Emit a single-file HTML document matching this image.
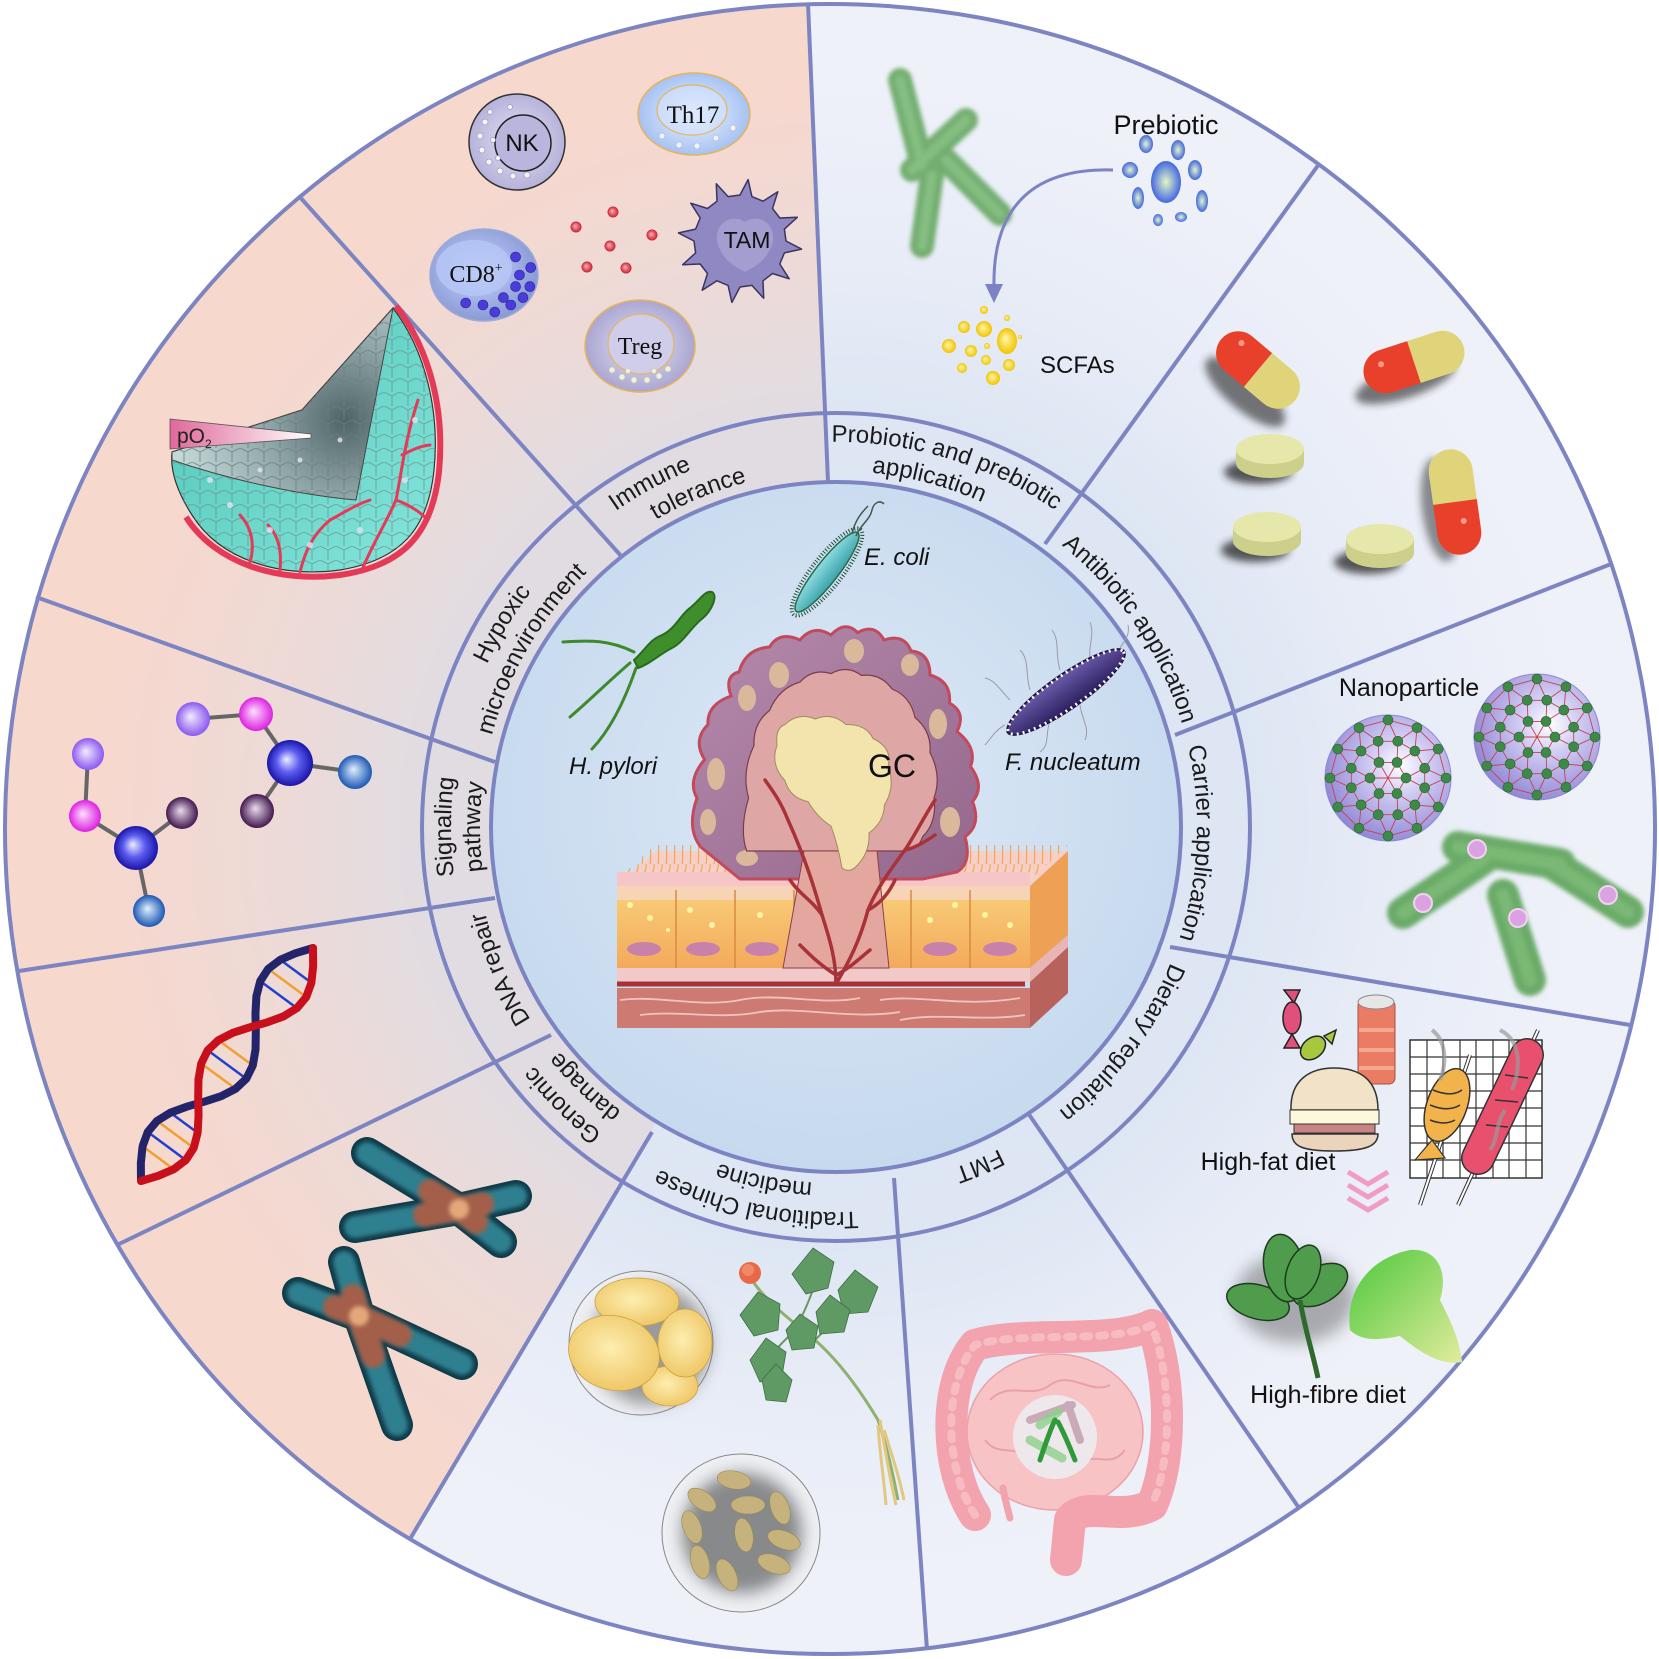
<!DOCTYPE html>
<html><head><meta charset="utf-8"><style>
html,body{margin:0;padding:0;background:#fff;}
svg{display:block;}
</style></head><body>
<svg width="1659" height="1659" viewBox="0 0 1659 1659" xmlns="http://www.w3.org/2000/svg" font-family="'Liberation Sans', Arial, sans-serif">
<defs>
<clipPath id="outerClip"><circle cx="830" cy="829" r="825"/></clipPath>
<radialGradient id="ov" gradientUnits="userSpaceOnUse" cx="836" cy="827" r="830">
<stop offset="0" stop-color="#d2dff0" stop-opacity="0.65"/>
<stop offset="0.5" stop-color="#d2dff0" stop-opacity="0.6"/>
<stop offset="0.66" stop-color="#d2dff0" stop-opacity="0.3"/>
<stop offset="0.9" stop-color="#d2dff0" stop-opacity="0"/>
</radialGradient>
<radialGradient id="discG" cx="0.5" cy="0.45" r="0.55">
<stop offset="0" stop-color="#dde9f6"/><stop offset="1" stop-color="#c6d9ee"/>
</radialGradient>
<radialGradient id="gPur" cx="0.5" cy="0.5" r="0.5" fx="0.42" fy="0.42"><stop offset="0" stop-color="#f4ecff"/><stop offset="1" stop-color="#8b58f0"/></radialGradient>
<radialGradient id="gMag" cx="0.5" cy="0.5" r="0.5" fx="0.42" fy="0.42"><stop offset="0" stop-color="#ffe0ff"/><stop offset="1" stop-color="#dc22e0"/></radialGradient>
<radialGradient id="gBB" cx="0.5" cy="0.5" r="0.5" fx="0.42" fy="0.42"><stop offset="0" stop-color="#eceeff"/><stop offset="0.5" stop-color="#5c5cf0"/><stop offset="1" stop-color="#1a14a8"/></radialGradient>
<radialGradient id="gDk" cx="0.5" cy="0.5" r="0.5" fx="0.45" fy="0.42"><stop offset="0" stop-color="#eadcee"/><stop offset="1" stop-color="#43184f"/></radialGradient>
<radialGradient id="gBl" cx="0.5" cy="0.5" r="0.5" fx="0.45" fy="0.42"><stop offset="0" stop-color="#e0f0ff"/><stop offset="1" stop-color="#1c58b4"/></radialGradient>
<radialGradient id="nanoG" cx="0.6" cy="0.4" r="0.65"><stop offset="0" stop-color="#ffffff"/><stop offset="0.35" stop-color="#d2cdf4"/><stop offset="1" stop-color="#8d84d4"/></radialGradient>
<radialGradient id="cellNK" cx="0.5" cy="0.5" r="0.5"><stop offset="0" stop-color="#e4e2f4"/><stop offset="1" stop-color="#b6b2da"/></radialGradient>
<radialGradient id="cellTh" cx="0.5" cy="0.5" r="0.5"><stop offset="0" stop-color="#eef4ff"/><stop offset="1" stop-color="#a6c2f2"/></radialGradient>
<radialGradient id="cellCD" cx="0.45" cy="0.45" r="0.55"><stop offset="0" stop-color="#c8d4fa"/><stop offset="1" stop-color="#8a9ad6"/></radialGradient>
<radialGradient id="cellTr" cx="0.5" cy="0.5" r="0.5"><stop offset="0" stop-color="#e6e4f4"/><stop offset="1" stop-color="#aaa6d2"/></radialGradient>
<radialGradient id="redDot" cx="0.5" cy="0.5" r="0.5" fx="0.4" fy="0.4"><stop offset="0" stop-color="#ffb0b8"/><stop offset="1" stop-color="#c8202e"/></radialGradient>
<radialGradient id="blueDot" cx="0.5" cy="0.5" r="0.5"><stop offset="0" stop-color="#e2f6c8"/><stop offset="1" stop-color="#4468e0"/></radialGradient>
<radialGradient id="yelDot" cx="0.5" cy="0.5" r="0.5" fx="0.4" fy="0.4"><stop offset="0" stop-color="#fff7b0"/><stop offset="1" stop-color="#f2c400"/></radialGradient>
<linearGradient id="tealG" x1="0" y1="0" x2="1" y2="1"><stop offset="0" stop-color="#4cc4b6"/><stop offset="1" stop-color="#86e6dc"/></linearGradient>
<radialGradient id="cutG" gradientUnits="userSpaceOnUse" cx="345" cy="420" r="170"><stop offset="0" stop-color="#4f6466"/><stop offset="0.45" stop-color="#8fa6a8"/><stop offset="1" stop-color="#c4d8d8"/></radialGradient>
<linearGradient id="po2G" x1="0" y1="0" x2="1" y2="0"><stop offset="0" stop-color="#e0689a"/><stop offset="1" stop-color="#ffffff"/></linearGradient>
<radialGradient id="potG" cx="0.45" cy="0.45" r="0.6"><stop offset="0" stop-color="#fdeeb0"/><stop offset="1" stop-color="#eec563"/></radialGradient>
<linearGradient id="cellsG" x1="0" y1="0" x2="0" y2="1"><stop offset="0" stop-color="#f9d07c"/><stop offset="1" stop-color="#f3aa5a"/></linearGradient>
<linearGradient id="tumG" x1="0" y1="0" x2="1" y2="1"><stop offset="0" stop-color="#b58aab"/><stop offset="1" stop-color="#94678c"/></linearGradient>
<linearGradient id="lettG" x1="0" y1="0" x2="1" y2="1"><stop offset="0" stop-color="#4cc83c"/><stop offset="1" stop-color="#e2ec9c"/></linearGradient>
<linearGradient id="fnG" x1="0" y1="0" x2="0" y2="1"><stop offset="0" stop-color="#6a5aa8"/><stop offset="1" stop-color="#2c2060"/></linearGradient>
<linearGradient id="ecG" x1="0" y1="0" x2="0" y2="1"><stop offset="0" stop-color="#8edde0"/><stop offset="1" stop-color="#3aa2aa"/></linearGradient>
<filter id="blur2" x="-30%" y="-30%" width="160%" height="160%"><feGaussianBlur stdDeviation="2"/></filter>
<filter id="blur4" x="-50%" y="-50%" width="200%" height="200%"><feGaussianBlur stdDeviation="4"/></filter>
<filter id="blur8" x="-50%" y="-50%" width="200%" height="200%"><feGaussianBlur stdDeviation="8"/></filter>
<pattern id="hair" width="8" height="36" patternUnits="userSpaceOnUse"><path d="M2,36 C4,26 1,18 4,10 C5,6 7,4 6,0" stroke="#eea23c" stroke-width="1" fill="none"/></pattern>
<pattern id="mesh" width="16" height="14" patternUnits="userSpaceOnUse"><path d="M0,0 L8,4 L16,0 M8,4 L8,14" stroke="#6d7f80" stroke-width="1" fill="none"/></pattern>
<path id="p1a" d="M1221,827 A385,385 0 1 1 451,827 A385,385 0 1 1 1221,827"/>
<path id="p1b" d="M451,827 A385,385 0 1 1 1221,827 A385,385 0 1 1 451,827"/>
<path id="p2a" d="M1192,827 A356,356 0 1 1 480,827 A356,356 0 1 1 1192,827"/>
<path id="p2b" d="M480,827 A356,356 0 1 1 1192,827 A356,356 0 1 1 480,827"/>
<path id="p3a" d="M1197,827 A361,361 0 1 1 475,827 A361,361 0 1 1 1197,827"/>
<path id="p3b" d="M475,827 A361,361 0 1 1 1197,827 A361,361 0 1 1 475,827"/>
<g id="nano">
<circle r="63" fill="url(#nanoG)" stroke="#8e86cf" stroke-width="1"/>
<g stroke="#c8404c" stroke-width="0.9" fill="none">
<polygon points="58,0 50.2,29 29,50.2 0,58 -29,50.2 -50.2,29 -58,0 -50.2,-29 -29,-50.2 0,-58 29,-50.2 50.2,-29"/>
<polygon points="36.7,9.8 26.9,26.9 9.8,36.7 -9.8,36.7 -26.9,26.9 -36.7,9.8 -36.7,-9.8 -26.9,-26.9 -9.8,-36.7 9.8,-36.7 26.9,-26.9 36.7,-9.8"/>
<polygon points="18,0 9,15.6 -9,15.6 -18,0 -9,-15.6 9,-15.6"/>
<path d="M58,0L36.7,9.8M58,0L36.7,-9.8M50.2,29L36.7,9.8M50.2,29L26.9,26.9M29,50.2L26.9,26.9M29,50.2L9.8,36.7M0,58L9.8,36.7M0,58L-9.8,36.7M-29,50.2L-9.8,36.7M-29,50.2L-26.9,26.9M-50.2,29L-26.9,26.9M-50.2,29L-36.7,9.8M-58,0L-36.7,9.8M-58,0L-36.7,-9.8M-50.2,-29L-36.7,-9.8M-50.2,-29L-26.9,-26.9M-29,-50.2L-26.9,-26.9M-29,-50.2L-9.8,-36.7M0,-58L-9.8,-36.7M0,-58L9.8,-36.7M29,-50.2L9.8,-36.7M29,-50.2L26.9,-26.9M50.2,-29L26.9,-26.9M50.2,-29L36.7,-9.8M36.7,9.8L18,0M36.7,-9.8L18,0M26.9,26.9L9,15.6M9.8,36.7L9,15.6M-9.8,36.7L-9,15.6M-26.9,26.9L-9,15.6M-36.7,9.8L-18,0M-36.7,-9.8L-18,0M-26.9,-26.9L-9,-15.6M-9.8,-36.7L-9,-15.6M9.8,-36.7L9,-15.6M26.9,-26.9L9,-15.6M18,0L-18,0M9,15.6L-9,-15.6M-9,15.6L9,-15.6"/>
</g>
<g fill="#3d8a48" stroke="#2a5e30" stroke-width="0.6">
<circle cx="58" cy="0" r="5"/><circle cx="50.2" cy="29" r="5"/><circle cx="29" cy="50.2" r="5"/><circle cx="0" cy="58" r="5"/><circle cx="-29" cy="50.2" r="5"/><circle cx="-50.2" cy="29" r="5"/><circle cx="-58" cy="0" r="5"/><circle cx="-50.2" cy="-29" r="5"/><circle cx="-29" cy="-50.2" r="5"/><circle cx="0" cy="-58" r="5"/><circle cx="29" cy="-50.2" r="5"/><circle cx="50.2" cy="-29" r="5"/>
<circle cx="36.7" cy="9.8" r="5"/><circle cx="26.9" cy="26.9" r="5"/><circle cx="9.8" cy="36.7" r="5"/><circle cx="-9.8" cy="36.7" r="5"/><circle cx="-26.9" cy="26.9" r="5"/><circle cx="-36.7" cy="9.8" r="5"/><circle cx="-36.7" cy="-9.8" r="5"/><circle cx="-26.9" cy="-26.9" r="5"/><circle cx="-9.8" cy="-36.7" r="5"/><circle cx="9.8" cy="-36.7" r="5"/><circle cx="26.9" cy="-26.9" r="5"/><circle cx="36.7" cy="-9.8" r="5"/>
<circle cx="18" cy="0" r="5"/><circle cx="9" cy="15.6" r="5"/><circle cx="-9" cy="15.6" r="5"/><circle cx="-18" cy="0" r="5"/><circle cx="-9" cy="-15.6" r="5"/><circle cx="9" cy="-15.6" r="5"/>
</g>
</g>
</defs>

<!-- BACKGROUND -->
<g clip-path="url(#outerClip)">
<rect x="0" y="0" width="1659" height="1659" fill="#eff1f9"/>
<path d="M828,481 L805,-60 L-60,-60 L-60,1720 L302,1720 L652,1132 Z" fill="#f7d8cd"/>
<rect x="0" y="0" width="1659" height="1659" fill="url(#ov)"/>
</g>
<circle cx="836" cy="827" r="345" fill="url(#discG)"/>

<!-- DIVIDERS AND CIRCLES -->
<g stroke="#7d84c2" stroke-width="4" fill="none">
<circle cx="830" cy="829" r="825"/>
<circle cx="836" cy="827" r="414"/>
<circle cx="836" cy="827" r="345"/>
<line x1="828" y1="482" x2="808" y2="3"/>
<line x1="622" y1="557" x2="299" y2="196"/>
<line x1="495" y1="762" x2="36" y2="597"/>
<line x1="495" y1="898" x2="19" y2="971"/>
<line x1="551" y1="1035" x2="117" y2="1245"/>
<line x1="652" y1="1132" x2="410" y2="1539"/>
<line x1="894" y1="1178" x2="927" y2="1650"/>
<line x1="1028" y1="1113" x2="1299" y2="1508"/>
<line x1="1170" y1="947" x2="1630" y2="1025"/>
<line x1="1175" y1="735" x2="1611" y2="564"/>
<line x1="1045" y1="544" x2="1319" y2="164"/>
</g>

<!-- RING LABELS -->
<g font-size="24" fill="#1a1a1a" text-anchor="middle">
<text><textPath href="#p1a" startOffset="1622.8">Immune</textPath></text>
<text><textPath href="#p2a" startOffset="1537.8">tolerance</textPath></text>
<text><textPath href="#p1b" startOffset="719">Probiotic and prebiotic</textPath></text>
<text><textPath href="#p2b" startOffset="652.4">application</textPath></text>
<text><textPath href="#p3b" startOffset="919.9">Antibiotic application</textPath></text>
<text><textPath href="#p3b" startOffset="1149.9">Carrier application</textPath></text>
<text><textPath href="#p3a" startOffset="233.1">Dietary regulation</textPath></text>
<text><textPath href="#p3a" startOffset="422.1">FMT</textPath></text>
<text><textPath href="#p1a" startOffset="685.4">Traditional Chinese</textPath></text>
<text><textPath href="#p2a" startOffset="630.7">medicine</textPath></text>
<text><textPath href="#p1a" startOffset="903.8">Genomic</textPath></text>
<text><textPath href="#p2a" startOffset="832.6">damage</textPath></text>
<text><textPath href="#p3a" startOffset="989.2">DNA repair</textPath></text>
<text><textPath href="#p1a" startOffset="1209.5">Signaling</textPath></text>
<text><textPath href="#p2a" startOffset="1118.4">pathway</textPath></text>
<text><textPath href="#p1a" startOffset="1419.8">Hypoxic</textPath></text>
<text><textPath href="#p2a" startOffset="1306.1">microenvironment</textPath></text>
</g>

<!-- IMMUNE SECTOR -->
<g>
<circle cx="517" cy="142" r="48" fill="url(#cellNK)" stroke="#333" stroke-width="1.5"/>
<circle cx="523" cy="143" r="28" fill="#b9b5dc" stroke="#222" stroke-width="1.5"/>
<g fill="#f4f4fa" stroke="#9d9ac4" stroke-width="0.7">
<circle cx="485" cy="122" r="3"/><circle cx="480" cy="136" r="3"/><circle cx="482" cy="150" r="3"/><circle cx="489" cy="162" r="3"/><circle cx="500" cy="171" r="3"/><circle cx="513" cy="176" r="3"/><circle cx="527" cy="175" r="3"/><circle cx="490" cy="112" r="2.5"/><circle cx="493" cy="140" r="2.5"/><circle cx="498" cy="158" r="2.5"/><circle cx="510" cy="107" r="2.5"/>
</g>
<text x="522" y="151" font-size="24" text-anchor="middle" fill="#111">NK</text>

<ellipse cx="694" cy="114" rx="56" ry="41" fill="url(#cellTh)" stroke="#e4b45e" stroke-width="1.5"/>
<ellipse cx="692" cy="110" rx="35" ry="25" fill="#d4e2fb" stroke="#e4b45e" stroke-width="1.2" fill-opacity="0.6"/>
<g fill="#f2f2f6" stroke="#a8b8d8" stroke-width="0.6"><circle cx="662" cy="136" r="3"/><circle cx="679" cy="145" r="3"/><circle cx="697" cy="146" r="3"/><circle cx="716" cy="138" r="3"/><circle cx="733" cy="128" r="3"/></g>
<text x="693" y="123" font-size="25" text-anchor="middle" font-family="'Liberation Serif', serif" fill="#111">Th17</text>

<path d="M786,241 L801.5,249.1 L784.4,252.9 L779.8,264 L789.2,278.8 L772.5,273.5 L763,280.8 L763.7,298.3 L751.9,285.4 L740,287 L731.9,302.4 L728.1,285.4 L717,280.8 L702.2,290.2 L707.5,273.5 L700.2,264 L682.7,264.7 L695.6,252.9 L694,241 L678.5,232.9 L695.6,229.1 L700.2,218 L690.8,203.2 L707.5,208.5 L717,201.2 L716.3,183.7 L728.1,196.6 L740,195 L748.1,179.6 L751.9,196.6 L763,201.2 L777.8,191.8 L772.5,208.5 L779.8,218 L797.3,217.3 L784.4,229.1 Z" fill="#8f88c2" stroke="#3a3560" stroke-width="1.5" stroke-linejoin="round"/>
<path d="M745,222 C760,212 778,226 772,245 C766,262 752,268 745,272 C738,268 724,262 718,245 C712,226 730,212 745,222 Z" fill="#a39dd0"/>
<text x="747" y="248" font-size="23" text-anchor="middle" fill="#111">TAM</text>

<ellipse cx="484" cy="275" rx="54" ry="46" fill="url(#cellCD)" stroke="#9faad6" stroke-width="1.5"/>
<ellipse cx="474" cy="268" rx="38" ry="28" fill="#b7c8f8" opacity="0.8"/>
<g fill="#4a3cd8" stroke="#2a1e9a" stroke-width="0.6">
<circle cx="515.6" cy="257" r="5"/><circle cx="530.7" cy="267.6" r="5"/><circle cx="519.5" cy="275" r="5"/><circle cx="515.6" cy="286.6" r="5"/><circle cx="529.9" cy="286.6" r="5"/><circle cx="503.4" cy="297.6" r="5"/><circle cx="523" cy="297.6" r="5"/><circle cx="510.8" cy="305" r="5"/><circle cx="465.7" cy="303" r="5"/><circle cx="483" cy="305" r="5"/><circle cx="494.8" cy="312" r="5"/>
</g>
<text x="476" y="282" font-size="24" text-anchor="middle" font-family="'Liberation Serif', serif" fill="#111">CD8<tspan font-size="14" dy="-10">+</tspan></text>

<g><circle cx="613" cy="212" r="5.5" fill="url(#redDot)"/><circle cx="576" cy="227" r="5.5" fill="url(#redDot)"/><circle cx="652" cy="235" r="5.5" fill="url(#redDot)"/><circle cx="610" cy="246" r="5.5" fill="url(#redDot)"/><circle cx="587" cy="267" r="5.5" fill="url(#redDot)"/><circle cx="626" cy="268" r="5.5" fill="url(#redDot)"/></g>

<ellipse cx="640" cy="346" rx="55" ry="46" fill="url(#cellTr)" stroke="#e4b45e" stroke-width="1.5"/>
<ellipse cx="641" cy="344" rx="33" ry="30" fill="#cfcdea" stroke="#e4b45e" stroke-width="1.2"/>
<g fill="#f0f0e0" stroke="#c8c6a0" stroke-width="0.6"><circle cx="612" cy="370" r="3"/><circle cx="622" cy="377" r="3"/><circle cx="634" cy="380" r="3"/><circle cx="647" cy="380" r="3"/><circle cx="659" cy="376" r="3"/><circle cx="668" cy="369" r="3"/><circle cx="628" cy="371" r="2.5"/><circle cx="654" cy="371" r="2.5"/></g>
<text x="640" y="354" font-size="24" text-anchor="middle" font-family="'Liberation Serif', serif" fill="#111">Treg</text>
</g>

<!-- HYPOXIC WEDGE -->
<g>
<path d="M172,452 L302,410 L393,308 C425,350 440,410 434,470 C428,530 400,560 340,570 C280,578 220,560 192,515 C176,490 170,470 172,452 Z" fill="url(#tealG)" stroke="#333" stroke-width="1.2"/>
<path d="M172,452 L302,410 L393,308 C425,350 440,410 434,470 C428,530 400,560 340,570 C280,578 220,560 192,515 C176,490 170,470 172,452 Z" fill="url(#mesh)" opacity="0.6"/>
<path d="M396,306 C430,350 445,410 439,472 C432,535 402,566 340,575 C278,583 215,563 186,517" fill="none" stroke="#e43a58" stroke-width="6"/>
<path d="M172,452 L302,410 L393,308 L356,500 C300,495 230,480 172,460 Z" fill="url(#cutG)" stroke="#444" stroke-width="1"/>
<path d="M172,452 L302,410 L393,308 L356,500 C300,495 230,480 172,460 Z" fill="url(#mesh)" opacity="0.8"/>
<g stroke="#e43a58" stroke-width="3" fill="none" stroke-linecap="round">
<path d="M418,400 C405,440 402,470 396,500 C385,525 372,545 362,570"/>
<path d="M396,500 C410,505 420,512 428,520"/>
<path d="M402,455 C412,450 420,446 430,445"/>
<path d="M300,572 C305,552 312,535 330,520"/>
<path d="M250,562 C255,545 252,528 240,515"/>
<path d="M330,520 C345,512 355,505 370,500"/>
<path d="M280,570 C282,550 278,535 268,525"/>
</g>
<g fill="#e6e4f6" opacity="0.8"><circle cx="230" cy="505" r="3"/><circle cx="270" cy="530" r="3"/><circle cx="310" cy="545" r="3"/><circle cx="360" cy="530" r="3"/><circle cx="405" cy="480" r="3"/><circle cx="415" cy="420" r="3"/><circle cx="210" cy="480" r="3"/><circle cx="260" cy="470" r="2.5"/><circle cx="300" cy="460" r="2.5"/><circle cx="340" cy="440" r="2.5"/></g>
<polygon points="170,419 311,434 311,438 170,449" fill="url(#po2G)" stroke="#555" stroke-width="0.8"/>
<text x="177" y="443" font-size="21" fill="#222">pO<tspan font-size="12" dy="5">2</tspan></text>
</g>

<!-- SIGNALING MOLECULES -->
<g stroke="#666" stroke-width="4">
<line x1="88" y1="754" x2="85" y2="816"/><line x1="85" y1="816" x2="136" y2="848"/><line x1="136" y1="848" x2="182" y2="813"/><line x1="136" y1="848" x2="149" y2="911"/>
<line x1="193" y1="719" x2="256" y2="714"/><line x1="256" y1="714" x2="290" y2="763"/><line x1="290" y1="763" x2="355" y2="772"/><line x1="290" y1="763" x2="257" y2="811"/>
</g>
<g>
<circle cx="88" cy="754" r="16" fill="url(#gPur)"/><circle cx="85" cy="816" r="16" fill="url(#gMag)"/><circle cx="136" cy="848" r="22" fill="url(#gBB)"/><circle cx="182" cy="813" r="16" fill="url(#gDk)"/><circle cx="149" cy="911" r="16" fill="url(#gBl)"/>
<circle cx="193" cy="719" r="17" fill="url(#gPur)"/><circle cx="256" cy="714" r="17" fill="url(#gMag)"/><circle cx="290" cy="763" r="23" fill="url(#gBB)"/><circle cx="355" cy="772" r="17" fill="url(#gBl)"/><circle cx="257" cy="811" r="17" fill="url(#gDk)"/>
</g>

<!-- DNA -->
<g fill="none" stroke-linecap="round">
<g stroke-width="2.5">
<line x1="173.8" y1="1169.2" x2="142.6" y2="1146.2" stroke="#f0a030"/>
<line x1="185.8" y1="1160.1" x2="147.8" y2="1132" stroke="#2040d0"/>
<line x1="193.7" y1="1147.9" x2="157.1" y2="1120.9" stroke="#f0a030"/>
<line x1="197.6" y1="1132.8" x2="170.4" y2="1112.7" stroke="#2040d0"/>
<line x1="201.2" y1="1063.5" x2="235.6" y2="1088.8" stroke="#f0a030"/>
<line x1="207.7" y1="1050.3" x2="246.3" y2="1078.7" stroke="#2040d0"/>
<line x1="218.4" y1="1040.2" x2="252.8" y2="1065.5" stroke="#f0a030"/>
<line x1="296.9" y1="1008.1" x2="260.3" y2="981.1" stroke="#2040d0"/>
<line x1="306.2" y1="997" x2="268.2" y2="968.9" stroke="#f0a030"/>
<line x1="311.4" y1="982.8" x2="280.2" y2="959.8" stroke="#2040d0"/>
</g>
<polyline points="141,1181 140.85,1162.89 142.61,1146.19 147.76,1131.99 157.07,1120.87 170.38,1112.69 186.65,1106.7 204.21,1101.67 221.13,1096.17 235.57,1088.83 246.27,1078.73 252.77,1065.53 255.53,1049.57 255.81,1031.77 255.45,1013.5 256.38,996.19 260.27,981.07 268.16,968.89 280.21,959.79 295.65,953.19 313,948" stroke="#23246a" stroke-width="8" stroke-linejoin="round"/>
<polyline points="141,1181 158.35,1175.81 173.79,1169.21 185.84,1160.11 193.73,1147.93 197.62,1132.81 198.55,1115.5 198.19,1097.23 198.47,1079.43 201.23,1063.47 207.73,1050.27 218.43,1040.17 232.87,1032.83 249.79,1027.33 267.35,1022.3 283.62,1016.31 296.93,1008.13 306.24,997.01 311.39,982.81 313.15,966.11 313,948" stroke="#c8101c" stroke-width="8" stroke-linejoin="round"/>
</g>

<!-- CHROMOSOMES -->
<g stroke-linecap="round" fill="none">
<g stroke="#0f3a48" stroke-width="32">
<line x1="459" y1="1209" x2="367" y2="1153"/><line x1="459" y1="1209" x2="355" y2="1227"/><line x1="459" y1="1209" x2="516" y2="1196"/><line x1="459" y1="1209" x2="501" y2="1242"/>
<line x1="359" y1="1316" x2="344" y2="1262"/><line x1="359" y1="1316" x2="298" y2="1293"/><line x1="359" y1="1316" x2="462" y2="1364"/><line x1="359" y1="1316" x2="397" y2="1425"/>
</g>
<g stroke="#2f7f8f" stroke-width="22" filter="url(#blur2)">
<line x1="459" y1="1209" x2="367" y2="1153"/><line x1="459" y1="1209" x2="355" y2="1227"/><line x1="459" y1="1209" x2="516" y2="1196"/><line x1="459" y1="1209" x2="501" y2="1242"/>
<line x1="359" y1="1316" x2="344" y2="1262"/><line x1="359" y1="1316" x2="298" y2="1293"/><line x1="359" y1="1316" x2="462" y2="1364"/><line x1="359" y1="1316" x2="397" y2="1425"/>
</g>
<g stroke="#b85a3c" stroke-width="24" opacity="0.85" filter="url(#blur2)">
<line x1="459" y1="1209" x2="430" y2="1191"/><line x1="459" y1="1209" x2="425" y2="1215"/><line x1="459" y1="1209" x2="482" y2="1204"/><line x1="459" y1="1209" x2="476" y2="1222"/>
<line x1="359" y1="1316" x2="353" y2="1296"/><line x1="359" y1="1316" x2="335" y2="1307"/><line x1="359" y1="1316" x2="400" y2="1335"/><line x1="359" y1="1316" x2="373" y2="1356"/>
</g>
<circle cx="459" cy="1209" r="10" fill="#ffc890" stroke="none" opacity="0.7" filter="url(#blur2)"/>
<circle cx="359" cy="1316" r="10" fill="#ffc890" stroke="none" opacity="0.7" filter="url(#blur2)"/>
</g>

<!-- TCM -->
<g>
<circle cx="641" cy="1343" r="72" fill="#eef0f4" stroke="#888" stroke-width="1"/>
<circle cx="650" cy="1345" r="60" fill="#555" opacity="0.55" filter="url(#blur8)"/>
<ellipse cx="637" cy="1302" rx="42" ry="24" fill="url(#potG)" stroke="#c9a040" stroke-width="0.8"/>
<ellipse cx="670" cy="1386" rx="28" ry="20" fill="url(#potG)" stroke="#c9a040" stroke-width="0.8"/>
<ellipse cx="685" cy="1343" rx="27" ry="34" fill="url(#potG)" stroke="#c9a040" stroke-width="0.8"/>
<ellipse cx="614" cy="1353" rx="46" ry="37" fill="url(#potG)" stroke="#c9a040" stroke-width="0.8" transform="rotate(15 614 1353)"/>

<circle cx="741" cy="1533" r="79" fill="#eef0f4" stroke="#888" stroke-width="1"/>
<circle cx="742" cy="1533" r="60" fill="#444" opacity="0.6" filter="url(#blur8)"/>
<g fill="#c5b27c" stroke="#9a8858" stroke-width="0.6">
<ellipse cx="734" cy="1480" rx="17" ry="9" transform="rotate(10 734 1480)"/>
<ellipse cx="702" cy="1500" rx="16" ry="9" transform="rotate(35 702 1500)"/>
<ellipse cx="748" cy="1505" rx="17" ry="9" transform="rotate(0 748 1505)"/>
<ellipse cx="780" cy="1508" rx="17" ry="9" transform="rotate(70 780 1508)"/>
<ellipse cx="692" cy="1527" rx="17" ry="9" transform="rotate(70 692 1527)"/>
<ellipse cx="744" cy="1535" rx="17" ry="9" transform="rotate(80 744 1535)"/>
<ellipse cx="784" cy="1540" rx="17" ry="9" transform="rotate(20 784 1540)"/>
<ellipse cx="700" cy="1562" rx="17" ry="9" transform="rotate(75 700 1562)"/>
<ellipse cx="727" cy="1575" rx="17" ry="9" transform="rotate(65 727 1575)"/>
<ellipse cx="774" cy="1564" rx="17" ry="9" transform="rotate(20 774 1564)"/>
</g>

<path d="M752,1280 C765,1300 790,1320 815,1340 C840,1362 860,1390 878,1420 C888,1450 893,1475 898,1500" stroke="#8fb070" stroke-width="3" fill="none"/>
<path d="M880,1420 C885,1450 890,1480 896,1505 M884,1430 C892,1455 900,1480 904,1500 M878,1425 C880,1455 884,1480 886,1505" stroke="#e0c880" stroke-width="3" fill="none"/>
<path d="M800,1320 C810,1300 815,1285 820,1265 M815,1340 C830,1325 845,1310 860,1295 M790,1335 C780,1345 770,1355 765,1365" stroke="#6a9a60" stroke-width="2" fill="none"/>
<g fill="#5f9a64" stroke="#3e6e44" stroke-width="0.8">
<path d="M813,1248 L834,1262 L828,1288 L806,1294 L792,1274 Z"/>
<path d="M855,1270 L878,1287 L868,1312 L844,1314 L838,1290 Z"/>
<path d="M830,1295 L850,1310 L844,1332 L820,1334 L816,1312 Z"/>
<path d="M758,1292 L780,1304 L778,1330 L754,1336 L740,1315 Z"/>
<path d="M766,1338 L786,1352 L782,1376 L760,1382 L750,1360 Z"/>
<path d="M776,1364 L792,1380 L786,1402 L766,1400 L762,1380 Z"/>
<path d="M800,1314 L818,1326 L814,1348 L792,1350 L786,1330 Z"/>
</g>
<circle cx="750" cy="1273" r="11" fill="#e8684a"/>
<circle cx="748" cy="1270" r="6" fill="#f08a66"/>
</g>

<!-- FMT INTESTINE -->
<g>
<ellipse cx="1055" cy="1432" rx="88" ry="78" fill="#f7c3c5" stroke="#eaa2aa" stroke-width="1.5"/>
<g stroke="#eaa0a8" stroke-width="2" fill="none"><path d="M990,1400 C1010,1380 1030,1400 1050,1385 C1070,1370 1090,1395 1110,1385"/><path d="M985,1440 C1000,1460 1020,1440 1035,1465 M1075,1465 C1095,1450 1110,1470 1125,1450"/></g>
<path d="M975,1515 C945,1470 942,1385 975,1345 C1025,1330 1110,1345 1152,1325 C1172,1380 1172,1460 1152,1505 C1120,1522 1085,1500 1070,1520 L1066,1560" fill="none" stroke="#f2a3ad" stroke-width="32" stroke-linecap="round" stroke-linejoin="round"/>
<path d="M975,1515 C945,1470 942,1385 975,1345 C1025,1330 1110,1345 1152,1325 C1172,1380 1172,1460 1152,1505" fill="none" stroke="#f6bcc2" stroke-width="8" stroke-dasharray="6 10" stroke-linecap="round"/>
<path d="M1003,1488 C1005,1500 1008,1510 1010,1518" stroke="#f2a3ad" stroke-width="7" fill="none" stroke-linecap="round"/>
<circle cx="1055" cy="1437" r="42" fill="#ececef" opacity="0.9"/>
<g stroke-linecap="round" fill="none">
<line x1="1030" y1="1420" x2="1072" y2="1405" stroke="#c8aab8" stroke-width="8"/>
<line x1="1068" y1="1405" x2="1080" y2="1440" stroke="#c8aab8" stroke-width="8"/>
<line x1="1030" y1="1440" x2="1062" y2="1458" stroke="#8cd08a" stroke-width="9" opacity="0.8"/>
<line x1="1040" y1="1425" x2="1058" y2="1412" stroke="#8cd08a" stroke-width="9" opacity="0.8"/>
<path d="M1040,1460 C1045,1445 1050,1430 1055,1420" stroke="#2e9a3a" stroke-width="5"/>
<path d="M1058,1422 C1065,1435 1070,1448 1075,1460" stroke="#2e9a3a" stroke-width="5"/>
</g>
</g>

<!-- DIET -->
<g>
<path d="M1284,990 L1300,990 L1294,1003 Z" fill="#e0507a" stroke="#222" stroke-width="1.5"/>
<ellipse cx="1292" cy="1018" rx="9" ry="16" fill="#e0507a" stroke="#222" stroke-width="1.5"/>
<path d="M1292,1034 L1284,1048 L1300,1048 Z" fill="#e0507a" stroke="#222" stroke-width="1.5"/>
<ellipse cx="1313" cy="1048" rx="10" ry="14" fill="#a6c83e" stroke="#222" stroke-width="1.5" transform="rotate(50 1313 1048)"/>
<path d="M1324,1036 L1336,1030 L1332,1044 Z" fill="#a6c83e" stroke="#222" stroke-width="1.5"/>
<rect x="1358" y="1000" width="37" height="84" rx="6" fill="#ea7c64" stroke="#aa5040" stroke-width="1"/>
<g stroke="#f5a890" stroke-width="4"><line x1="1359" y1="1030" x2="1394" y2="1030"/><line x1="1359" y1="1050" x2="1394" y2="1050"/><line x1="1359" y1="1068" x2="1394" y2="1068"/></g>
<ellipse cx="1376" cy="1002" rx="18" ry="7" fill="#e6e6e6" stroke="#888"/>
<path d="M1291,1110 C1290,1080 1310,1068 1334,1068 C1360,1068 1378,1080 1378,1110 Z" fill="#f2e2c8" stroke="#333" stroke-width="1.5"/>
<rect x="1290" y="1110" width="89" height="14" fill="#fcf8dc" stroke="#333" stroke-width="1"/>
<rect x="1294" y="1124" width="81" height="9" fill="#c88484" stroke="#333" stroke-width="1"/>
<path d="M1292,1134 L1378,1134 C1378,1146 1366,1151 1334,1151 C1302,1151 1292,1146 1292,1134 Z" fill="#ead4bc" stroke="#333" stroke-width="1.5"/>
<rect x="1410" y="1040" width="132" height="138" fill="#fff" stroke="#333" stroke-width="1.5"/>
<g stroke="#333" stroke-width="1.2">
<line x1="1427" y1="1040" x2="1427" y2="1178"/><line x1="1443" y1="1040" x2="1443" y2="1178"/><line x1="1460" y1="1040" x2="1460" y2="1178"/><line x1="1476" y1="1040" x2="1476" y2="1178"/><line x1="1493" y1="1040" x2="1493" y2="1178"/><line x1="1509" y1="1040" x2="1509" y2="1178"/><line x1="1526" y1="1040" x2="1526" y2="1178"/>
<line x1="1410" y1="1057" x2="1542" y2="1057"/><line x1="1410" y1="1074" x2="1542" y2="1074"/><line x1="1410" y1="1091" x2="1542" y2="1091"/><line x1="1410" y1="1108" x2="1542" y2="1108"/><line x1="1410" y1="1126" x2="1542" y2="1126"/><line x1="1410" y1="1143" x2="1542" y2="1143"/><line x1="1410" y1="1160" x2="1542" y2="1160"/>
</g>
<line x1="1470" y1="1055" x2="1420" y2="1205" stroke="#333" stroke-width="4"/>
<line x1="1470" y1="1055" x2="1420" y2="1205" stroke="#fff" stroke-width="2"/>
<ellipse cx="1447" cy="1105" rx="20" ry="38" fill="#f2b44a" stroke="#333" stroke-width="1.5" transform="rotate(20 1447 1105)"/>
<path d="M1432,1140 L1415,1160 L1445,1158 Z" fill="#f2b44a" stroke="#333" stroke-width="1.2"/>
<g stroke="#333" stroke-width="1.5" fill="none"><path d="M1433,1090 C1445,1095 1455,1095 1462,1090"/><path d="M1430,1105 C1442,1110 1452,1110 1460,1105"/><path d="M1430,1120 C1440,1124 1448,1124 1455,1120"/></g>
<line x1="1538" y1="1030" x2="1458" y2="1205" stroke="#333" stroke-width="4"/>
<line x1="1538" y1="1030" x2="1458" y2="1205" stroke="#fff" stroke-width="2"/>
<line x1="1527" y1="1055" x2="1478" y2="1158" stroke="#333" stroke-width="34" stroke-linecap="round"/>
<line x1="1527" y1="1055" x2="1478" y2="1158" stroke="#e8506e" stroke-width="31" stroke-linecap="round"/>
<g stroke="#333" stroke-width="1.5" fill="none"><path d="M1505,1075 L1528,1078"/><path d="M1495,1100 L1518,1102"/><path d="M1486,1125 L1508,1127"/></g>
<g stroke="#9a9a9a" stroke-width="4" fill="none" opacity="0.7"><path d="M1432,1030 C1445,1040 1448,1060 1440,1080"/><path d="M1500,1030 C1520,1040 1522,1065 1512,1090"/><path d="M1505,1110 C1495,1125 1498,1140 1490,1150"/></g>
<text x="1268" y="1170" font-size="25" text-anchor="middle" fill="#111">High-fat diet</text>
<g fill="none" stroke="#f29cc4" stroke-width="5" stroke-linejoin="miter"><path d="M1348,1172 L1368,1184 L1388,1172"/><path d="M1348,1185 L1368,1197 L1388,1185"/><path d="M1348,1198 L1368,1210 L1388,1198"/></g>
<ellipse cx="1295" cy="1298" rx="60" ry="45" fill="#555" opacity="0.45" filter="url(#blur8)"/>
<g fill="#4f9c4c" stroke="#1e3b1e" stroke-width="1.5">
<ellipse cx="1258" cy="1302" rx="32" ry="17" transform="rotate(15 1258 1302)"/>
<ellipse cx="1284" cy="1268" rx="20" ry="34" transform="rotate(-10 1284 1268)"/>
<ellipse cx="1320" cy="1285" rx="30" ry="18" transform="rotate(-30 1320 1285)"/>
<ellipse cx="1303" cy="1272" rx="16" ry="28" transform="rotate(20 1303 1272)"/>
</g>
<path d="M1300,1300 C1305,1330 1312,1350 1318,1378" stroke="#2e6a2e" stroke-width="5" fill="none"/>
<path d="M1350,1330 C1345,1290 1370,1258 1410,1250 C1440,1248 1448,1275 1440,1300 C1450,1320 1460,1340 1462,1362 C1440,1366 1420,1352 1400,1336 C1380,1340 1362,1342 1350,1330 Z" fill="url(#lettG)"/>
<text x="1328" y="1403" font-size="25" text-anchor="middle" fill="#111">High-fibre diet</text>
</g>

<!-- NANOPARTICLES AND CARRIER BACTERIA -->
<text x="1409" y="696" font-size="25" text-anchor="middle" fill="#111">Nanoparticle</text>
<use href="#nano" transform="translate(1388,778)"/>
<use href="#nano" transform="translate(1537,737)"/>
<g stroke-linecap="round" fill="none" filter="url(#blur2)">
<g stroke="#5ea55a" stroke-width="32" opacity="0.9">
<line x1="1403" y1="913" x2="1483" y2="859"/><line x1="1458" y1="847" x2="1560" y2="864"/><line x1="1553" y1="864" x2="1628" y2="912"/><line x1="1503" y1="895" x2="1530" y2="980"/>
</g>
<g stroke="#86c47e" stroke-width="12" opacity="0.55">
<line x1="1403" y1="913" x2="1483" y2="859"/><line x1="1458" y1="847" x2="1560" y2="864"/><line x1="1553" y1="864" x2="1628" y2="912"/><line x1="1503" y1="895" x2="1530" y2="980"/>
</g>
</g>
<g fill="#dba2e2" stroke="#f4d0f4" stroke-width="2"><circle cx="1477" cy="849" r="9"/><circle cx="1423" cy="903" r="9"/><circle cx="1608" cy="895" r="9"/><circle cx="1518" cy="918" r="9"/></g>

<!-- PILLS -->
<g>
<ellipse cx="1245" cy="392" rx="50" ry="18" fill="#222" opacity="0.6" filter="url(#blur4)" transform="rotate(40 1245 392)"/>
<ellipse cx="1405" cy="382" rx="52" ry="16" fill="#222" opacity="0.6" filter="url(#blur4)" transform="rotate(-18 1405 382)"/>
<ellipse cx="1440" cy="510" rx="52" ry="18" fill="#222" opacity="0.5" filter="url(#blur4)" transform="rotate(82 1440 510)"/>
<ellipse cx="1258" cy="472" rx="34" ry="12" fill="#222" opacity="0.75" filter="url(#blur4)"/>
<ellipse cx="1255" cy="550" rx="34" ry="12" fill="#222" opacity="0.75" filter="url(#blur4)"/>
<ellipse cx="1368" cy="562" rx="34" ry="12" fill="#222" opacity="0.75" filter="url(#blur4)"/>
<g transform="translate(1258,370) rotate(40)">
<path d="M0,-22 L-26,-22 A22,22 0 0 0 -26,22 L0,22 Z" fill="#e8402a"/>
<path d="M0,-22 L26,-22 A22,22 0 0 1 26,22 L0,22 Z" fill="#e0d47a"/>
<circle cx="-30" cy="-10" r="3" fill="#ff9a8a"/>
</g>
<g transform="translate(1414,362) rotate(-18)">
<path d="M0,-22 L-30,-22 A22,22 0 0 0 -30,22 L0,22 Z" fill="#e8402a"/>
<path d="M0,-22 L30,-22 A22,22 0 0 1 30,22 L0,22 Z" fill="#e0d47a"/>
<circle cx="-32" cy="-8" r="3" fill="#ff9a8a"/>
</g>
<g transform="translate(1455,502) rotate(82)">
<path d="M0,-22 L-31,-22 A22,22 0 0 0 -31,22 L0,22 Z" fill="#e0d47a"/>
<path d="M0,-22 L31,-22 A22,22 0 0 1 31,22 L0,22 Z" fill="#e8402a"/>
<circle cx="20" cy="-6" r="3" fill="#ff9a8a"/>
</g>
<g>
<path d="M1236,449 L1236,463 A34,15 0 0 0 1304,463 L1304,449 Z" fill="#cdd08a"/>
<ellipse cx="1270" cy="449" rx="34" ry="15" fill="#e6e7ab"/>
<path d="M1233,527 L1233,541 A34,15 0 0 0 1301,541 L1301,527 Z" fill="#cdd08a"/>
<ellipse cx="1267" cy="527" rx="34" ry="15" fill="#e6e7ab"/>
<path d="M1346,539 L1346,553 A34,15 0 0 0 1414,553 L1414,539 Z" fill="#cdd08a"/>
<ellipse cx="1380" cy="539" rx="34" ry="15" fill="#e6e7ab"/>
</g>
</g>

<!-- PROBIOTIC -->
<g stroke-linecap="round" fill="none" filter="url(#blur2)">
<g stroke="#66a862" stroke-width="24" opacity="0.9">
<line x1="900" y1="80" x2="922" y2="165"/><line x1="966" y1="120" x2="912" y2="170"/><line x1="946" y1="160" x2="1000" y2="214"/><line x1="932" y1="175" x2="922" y2="246"/>
</g>
<g stroke="#92ca8c" stroke-width="9" opacity="0.6">
<line x1="900" y1="80" x2="922" y2="165"/><line x1="966" y1="120" x2="912" y2="170"/><line x1="946" y1="160" x2="1000" y2="214"/><line x1="932" y1="175" x2="922" y2="246"/>
</g>
</g>
<text x="1166" y="134" font-size="27" text-anchor="middle" fill="#111">Prebiotic</text>
<g fill="url(#blueDot)">
<ellipse cx="1166" cy="182" rx="15" ry="21"/>
<ellipse cx="1146" cy="144" rx="7" ry="9"/><ellipse cx="1178" cy="150" rx="7" ry="10"/><ellipse cx="1130" cy="170" rx="8" ry="8"/><ellipse cx="1195" cy="170" rx="7" ry="10"/>
<ellipse cx="1138" cy="198" rx="6" ry="11"/><ellipse cx="1202" cy="201" rx="6" ry="11"/><ellipse cx="1158" cy="220" rx="5" ry="6"/><ellipse cx="1181" cy="217" rx="6" ry="5"/>
</g>
<path d="M1113,170 C1040,168 992,200 994,288" stroke="#7c82c3" stroke-width="3" fill="none"/>
<polygon points="985,284 1003,284 994,303" fill="#7c82c3"/>
<g fill="url(#yelDot)">
<circle cx="984" cy="310" r="4"/><circle cx="1007" cy="318" r="3"/><circle cx="964" cy="327" r="6"/><circle cx="984" cy="329" r="8"/><ellipse cx="1007" cy="341" rx="10" ry="13"/><circle cx="949" cy="346" r="7"/><circle cx="971" cy="351" r="6"/><circle cx="987" cy="346" r="3"/><circle cx="986" cy="360" r="5"/><circle cx="1009" cy="365" r="6"/><circle cx="962" cy="368" r="5"/><circle cx="993" cy="378" r="7"/><circle cx="1020" cy="337" r="2"/>
</g>
<text x="1040" y="373" font-size="24" fill="#111">SCFAs</text>

<!-- CENTER: TISSUE BLOCK -->
<g>
<polygon points="617,886 1030,886 1068,851 655,851" fill="#f7cfc6"/>
<polygon points="617,880 1030,880 1068,845 655,845" fill="url(#hair)"/>
<rect x="617" y="872" width="413" height="14" fill="#f6c6c6"/>
<rect x="617" y="886" width="413" height="82" fill="url(#cellsG)"/>
<rect x="617" y="886" width="413" height="14" fill="#f8d6c6" opacity="0.8"/>
<g stroke="#d98a40" stroke-width="1.5"><line x1="676" y1="890" x2="676" y2="968"/><line x1="735" y1="890" x2="735" y2="968"/><line x1="794" y1="890" x2="794" y2="968"/><line x1="911" y1="890" x2="911" y2="968"/><line x1="970" y1="890" x2="970" y2="968"/></g>
<g fill="#c882aa"><ellipse cx="644" cy="949" rx="17" ry="7"/><ellipse cx="703" cy="949" rx="17" ry="7"/><ellipse cx="762" cy="949" rx="17" ry="7"/><ellipse cx="940" cy="949" rx="17" ry="7"/><ellipse cx="1000" cy="949" rx="17" ry="7"/></g>
<g fill="#fbf6a0"><circle cx="630" cy="905" r="3"/><circle cx="650" cy="918" r="3"/><circle cx="690" cy="910" r="3"/><circle cx="712" cy="925" r="3"/><circle cx="760" cy="915" r="3"/><circle cx="930" cy="920" r="3"/><circle cx="955" cy="905" r="3"/><circle cx="985" cy="915" r="3"/><circle cx="1010" cy="925" r="3"/><circle cx="668" cy="930" r="2"/></g>
<rect x="617" y="968" width="413" height="14" fill="#f2c9c9"/>
<rect x="617" y="988" width="413" height="40" fill="#cd7a72"/>
<g stroke="#f2c4bc" stroke-width="1.8" fill="none"><path d="M620,1000 C660,995 700,1008 740,1000 C780,992 820,1006 860,998"/><path d="M640,1015 C680,1010 720,1020 760,1012 C800,1006 850,1020 900,1012"/><path d="M880,1000 C920,994 960,1008 1020,998"/><path d="M900,1020 C940,1012 980,1022 1025,1015"/></g>
<line x1="617" y1="984" x2="1025" y2="984" stroke="#a83238" stroke-width="5"/>
<polygon points="1030,886 1068,851 1068,935 1030,968" fill="#eea055"/>
<polygon points="1030,968 1068,935 1068,947 1030,982" fill="#e8b4b4"/>
<polygon points="1030,982 1068,947 1068,993 1030,1028" fill="#b8625c"/>
</g>

<!-- TUMOR -->
<g>
<path d="M700.7,847 Q686.2,828.3 697,798 Q686.9,780.7 704.6,759.6 Q692.4,740.1 708,724.5 Q706.6,704.7 731,696 Q723.9,675.5 739,672 Q745.5,648.6 769.6,647 Q779.3,630.6 800,640 Q813.3,623.7 831,635 Q845.3,619.8 857.6,632.6 Q874.7,622.9 884,640 Q904.2,633.2 911,651 Q929.8,652.5 930,675 Q951.4,681.1 949.5,703 Q966.5,712.6 957,731.5 Q977.7,747.8 970.5,766.6 Q985.3,786.5 972.5,801.6 Q981.6,824.9 965,836.7 Q972.2,862.8 957,872 L922.7,879 L740,879 Z" fill="url(#tumG)" stroke="#c24a5c" stroke-width="3"/>
<g fill="#d9b89b"><ellipse cx="779" cy="675" rx="10" ry="13"/><ellipse cx="747" cy="698" rx="9" ry="13"/><ellipse cx="854" cy="651" rx="10" ry="12"/><ellipse cx="716" cy="774" rx="9" ry="16"/><ellipse cx="938" cy="724" rx="9" ry="15"/><ellipse cx="950" cy="822" rx="10" ry="15"/><ellipse cx="708" cy="822" rx="8" ry="13"/><ellipse cx="747" cy="858" rx="11" ry="8"/><ellipse cx="910" cy="665" rx="9" ry="11"/></g>
<path d="M746.7,851 Q739.1,829.6 748.6,798 Q741.3,772 754,745.5 Q753,723.3 769.6,710.4 Q778.8,688.2 800,682 Q812.9,668.1 831,673.6 Q847,664.5 861.5,675.4 Q880.7,673 892,689 Q910.4,696.1 915,717.5 Q931.7,731.1 930,752.5 Q942,775.9 934,798 Q937.2,822.1 922.7,836.7 Q918.1,851.1 899.7,851 Z" fill="#dfa6a6" stroke="#7a3c4a" stroke-width="1.2"/>
<path d="M804,851 L877,851 L889,968 L783,968 Z" fill="#e4a7a0" stroke="#8a4048" stroke-width="1"/>
<path d="M777,745.5 Q775,728 785,724.5 Q798,712 815.5,719 Q832,712 846,724.5 Q866,724 873,738.5 Q893,748 888,766.6 Q896,786 884.4,805 Q884,822 869,833 Q870,852 857.6,865 Q850,874 842,868 Q838,845 831,826 Q818,818 808,801.6 Q790,798 785,780.6 Q770,765 777,745.5 Z" fill="#f3e4ae" stroke="#a08a60" stroke-width="1"/>
<g stroke="#a83238" stroke-width="3.5" fill="none" stroke-linecap="round">
<path d="M836,984 C836,960 830,940 822,915 C815,890 806,860 788,820 C780,800 772,790 765,780"/>
<path d="M822,915 C812,900 800,895 790,880"/>
<path d="M836,984 C850,960 860,940 868,910 C876,890 890,870 905,850 C915,835 925,815 935,800"/>
<path d="M868,910 C878,905 888,895 895,880"/>
<path d="M836,975 C820,965 810,955 800,945"/>
<path d="M836,975 C850,968 860,958 870,950"/>
<path d="M905,850 C915,848 925,842 935,835"/>
</g>
<text x="892" y="777" font-size="32" text-anchor="middle" fill="#111">GC</text>
</g>

<!-- CENTER BACTERIA -->
<g>
<g transform="translate(827,572) rotate(-52)">
<ellipse rx="54" ry="15" fill="none" stroke="#1f4f34" stroke-width="4" stroke-dasharray="1 2"/>
<ellipse rx="50" ry="11" fill="url(#ecG)" stroke="#2a6a4a" stroke-width="1.5"/>
</g>
<path d="M856,536 C860,525 870,520 872,510 C874,502 880,500 884,504 M852,534 C855,520 862,512 868,506" stroke="#3a5a4a" stroke-width="1.5" fill="none"/>
<text x="864" y="565" font-size="24" font-style="italic" fill="#111">E. coli</text>

<path d="M634,652 C610,640 590,640 563,642 M630,663 C610,680 590,700 570,717 M636,668 C625,700 610,730 592,749" stroke="#3d8a2a" stroke-width="3" fill="none" stroke-linecap="round"/>
<path d="M634,660 C645,650 650,640 660,636 C675,630 680,615 690,608 C700,600 705,590 712,592 C718,596 712,610 703,618 C690,628 684,642 672,648 C660,654 650,664 638,668 Z" fill="#3e8e2c" stroke="#2a6a1c" stroke-width="2"/>
<text x="569" y="774" font-size="24" font-style="italic" fill="#111">H. pylori</text>

<g stroke="#9a9aaa" stroke-width="1" fill="none">
<path d="M1010,700 C1000,690 995,680 985,678"/><path d="M1030,690 C1025,675 1030,660 1020,650"/><path d="M1060,670 C1055,655 1060,640 1052,630"/><path d="M1090,660 C1088,645 1095,635 1090,622"/><path d="M1120,648 C1125,640 1130,635 1128,625"/><path d="M1050,720 C1045,735 1050,745 1040,752"/><path d="M1080,705 C1082,720 1090,728 1085,740"/><path d="M1005,725 C995,730 990,740 985,745"/>
</g>
<g transform="translate(1066,692) rotate(-35)">
<ellipse rx="72" ry="18" fill="#1e163e"/>
<ellipse rx="70" ry="16" fill="url(#fnG)" stroke="#ffffff" stroke-width="3" stroke-dasharray="2 4"/>
</g>
<text x="1005" y="770" font-size="24" font-style="italic" fill="#111">F. nucleatum</text>
</g>
</svg>
</body></html>
